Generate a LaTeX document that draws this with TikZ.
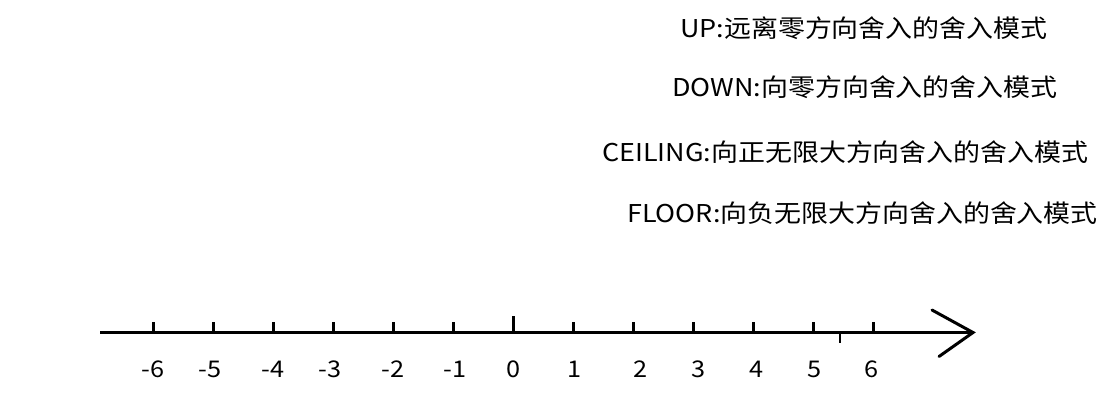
\documentclass[tikz,border=0pt]{standalone}
\usepackage{fontspec}
\setmainfont{Noto Sans CJK SC}[FakeStretch=1.1]
\begin{document}
\begin{tikzpicture}[x=1pt,y=-1pt,
  axisline/.style={line width=3pt,black},
  tickline/.style={line width=2.4pt,black},
  numlab/.style={font=\fontsize{23}{26}\selectfont,inner sep=0pt,anchor=center},
  modelab/.style={font=\fontsize{24.5}{28}\selectfont,inner sep=0pt,anchor=west}]
\useasboundingbox (0,0) rectangle (1110,405);
% mode texts
\node[modelab] (up) at (680,28) {UP:远离零方向舍入的舍入模式};
\node[modelab] (down) at (672,87) {DOWN:向零方向舍入的舍入模式};
\node[modelab] (ceil) at (602,152) {CEILING:向正无限大方向舍入的舍入模式};
\node[modelab] (floor) at (627,213) {FLOOR:向负无限大方向舍入的舍入模式};
% axis
\coordinate (a0) at (100,332.5);
\coordinate (tip) at (973,332.5);
\coordinate (h1) at (932,310);
\coordinate (h2) at (939,356.5);
\draw[axisline] (a0) -- (tip);
\draw[axisline,line cap=round,line join=miter] (h1) -- (tip) -- (h2);
% ticks
\foreach \i in {-6,...,6}{
  \pgfmathsetmacro{\xx}{513.3+60*\i}
  \ifnum\i=0
    \draw[tickline] (\xx,332.5) -- (\xx,316);
  \else
    \draw[tickline] (\xx,332.5) -- (\xx,322);
  \fi
}
\draw[tickline] (840,332.5) -- (840,343);
% labels
\foreach \v/\px in {-6/153,-5/210,-4/273,-3/330,-2/393,-1/455,0/514,1/575,2/641,3/699,4/757,5/815,6/872}{
  \node[numlab] (n\v) at (\px,369) {\v};
}
\end{tikzpicture}
\end{document}
